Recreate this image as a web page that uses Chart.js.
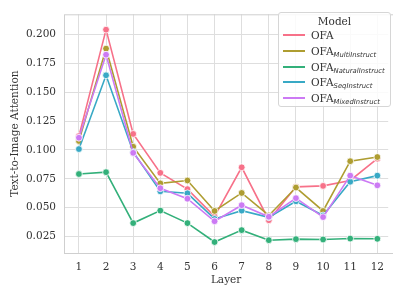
<!DOCTYPE html>
<html>
<head>
<meta charset="utf-8">
<script src="https://cdn.jsdelivr.net/npm/chart.js@4"></script>
<style>
  body { margin: 0; background: #fff; }
  #wrap { position: relative; width: 393px; height: 293px; overflow: hidden; }
  #legend {
    position: absolute; left: 278px; top: 12px; width: 113px; height: 95px;
    background: rgba(255,255,255,0.85); border: 1px solid #d6d6d6; border-radius: 3px;
    font-family: "DejaVu Serif", serif; font-size: 10.5px; color: #333;
    box-sizing: border-box;
  }
  #legend .title { text-align: center; margin-top: 1px; height: 14px; line-height: 14px; }
  #legend .row { position: relative; height: 15.8px; line-height: 14px; padding-left: 32px; white-space: nowrap; }
  #legend .row i { position: absolute; left: 4px; top: 6px; width: 22px; height: 2px; }
  #legend sub { font-family: "DejaVu Sans", sans-serif; font-style: italic; font-size: 6.8px; vertical-align: -2px; }
</style>
</head>
<body>
<div id="wrap">
  <canvas id="chart" width="393" height="293"></canvas>
  <div id="legend"></div>
</div>
<script>
// ------------------- Data ------------------- //
const layers = [1, 2, 3, 4, 5, 6, 7, 8, 9, 10, 11, 12];
const yTicks = [0.025, 0.05, 0.075, 0.1, 0.125, 0.15, 0.175, 0.2];

const ofa      = [0.112, 0.2042, 0.1139, 0.0802, 0.0661, 0.0425, 0.085, 0.0392, 0.0681, 0.0689, 0.0736, 0.0925];
const multi    = [0.1078, 0.1878, 0.1028, 0.0711, 0.0736, 0.0472, 0.0628, 0.0433, 0.0675, 0.0472, 0.0903, 0.0939];
const natural  = [0.0792, 0.0808, 0.0367, 0.0475, 0.0367, 0.0203, 0.0306, 0.0219, 0.0228, 0.0225, 0.0233, 0.0231];
const seq      = [0.1008, 0.1647, 0.0983, 0.0642, 0.0625, 0.0403, 0.0475, 0.0417, 0.0556, 0.0433, 0.0725, 0.0778];
const mixed    = [0.1106, 0.1825, 0.0975, 0.0669, 0.0578, 0.0383, 0.0522, 0.0422, 0.0583, 0.0419, 0.0778, 0.0694];

const seriesNames = ["OFA", "MultiInstruct", "NaturalInstruct", "SeqInstruct", "MixedInstruct"];
const seriesData = [ofa, multi, natural, seq, mixed];
const colors = ["#f77189", "#ae9d31", "#33b07a", "#38a9c5", "#cc7af4"];

// ------------------- Helpers ------------------- //
const FONT = "'DejaVu Serif', serif";

function toPoints(vals) {
  return vals.map((v, i) => ({ x: layers[i], y: v }));
}

// draw the axes frame (top + left + bottom spines)
const framePlugin = {
  id: "frame",
  beforeDatasetsDraw(chart) {
    const a = chart.chartArea;
    const ctx = chart.ctx;
    ctx.save();
    ctx.strokeStyle = "#cfcfcf";
    ctx.lineWidth = 1;
    ctx.strokeRect(a.left + 0.5, a.top + 0.5, a.right - a.left + 5, a.bottom - a.top);
    ctx.restore();
  }
};

// ------------------- Chart ------------------- //
const datasets = seriesData.map((vals, i) => ({
  label: seriesNames[i],
  data: toPoints(vals),
  borderColor: colors[i],
  backgroundColor: colors[i],
  pointBackgroundColor: colors[i],
  pointBorderColor: "#ffffff",
  pointBorderWidth: 0.8,
  pointRadius: 3.4,
  borderWidth: 1.6,
  tension: 0,
  order: 5 - i,
}));

new Chart(document.getElementById("chart"), {
  type: "line",
  data: { datasets },
  plugins: [framePlugin],
  options: {
    responsive: false,
    devicePixelRatio: 1,
    animation: false,
    layout: { padding: { left: 0, top: 5, right: 0, bottom: 0 } },
    plugins: { legend: { display: false }, tooltip: { enabled: false } },
    scales: {
      x: {
        type: "linear",
        min: 0.45,
        max: 12.4,
        afterBuildTicks: (s) => { s.ticks = layers.map(v => ({ value: v })); },
        afterFit: (s) => { s.height = 40; },
        grid: { color: "#dedede", lineWidth: 1, drawTicks: false },
        border: { display: false },
        ticks: { font: { family: FONT, size: 10.5 }, color: "#333", padding: 8, maxRotation: 0,
                 callback: (v) => String(v) },
        title: { display: true, text: "Layer", font: { family: FONT, size: 10.5 }, color: "#333",
                 padding: { top: 0, bottom: 6 } },
      },
      y: {
        min: 0.0108,
        max: 0.2175,
        afterBuildTicks: (s) => { s.ticks = yTicks.map(v => ({ value: v })); },
        afterFit: (s) => { s.width = 64; },
        grid: { color: "#dedede", lineWidth: 1, drawTicks: false },
        border: { display: false },
        ticks: { font: { family: FONT, size: 10.5 }, color: "#333", padding: 8,
                 callback: (v) => v.toFixed(3) },
        title: { display: true, text: "Text-to-Image Attention", font: { family: FONT, size: 10.5 }, color: "#333",
                 padding: { top: 9, bottom: 0 } },
      },
    },
  },
});

// ------------------- Legend (HTML, for subscripts) ------------------- //
const legend = document.getElementById("legend");
legend.innerHTML = '<div class="title">Model</div>' + seriesNames.map((name, i) => {
  const label = i === 0 ? "OFA" : "OFA<sub>" + name + "</sub>";
  return '<div class="row"><i style="background:' + colors[i] + '"></i>' + label + "</div>";
}).join("");
</script>
</body>
</html>
